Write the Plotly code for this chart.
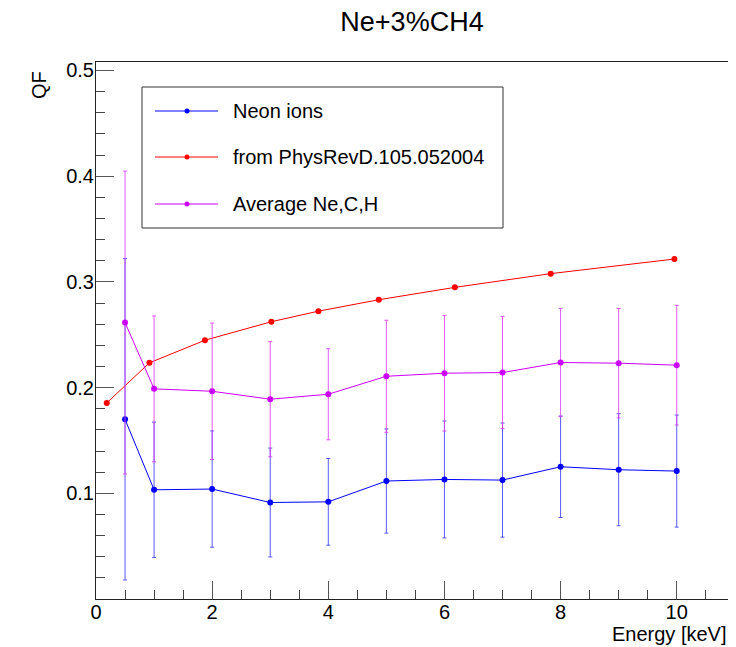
import plotly.graph_objects as go

# ---------------- data ----------------
neon_x = [0.5, 1, 2, 3, 4, 5, 6, 7, 8, 9, 10]
neon_y = [0.170, 0.1033, 0.104, 0.0913, 0.0919, 0.1116, 0.1131, 0.1125, 0.1251, 0.1223, 0.121]
neon_err = [0.152, 0.064, 0.055, 0.0515, 0.041, 0.0493, 0.0553, 0.054, 0.048, 0.053, 0.053]

prd_x = [0.185, 0.92, 1.876, 3.02, 3.83, 4.87, 6.18, 7.83, 9.96]
prd_y = [0.1855, 0.2234, 0.2448, 0.2623, 0.2723, 0.2831, 0.2948, 0.3078, 0.3216]

avg_x = [0.5, 1, 2, 3, 4, 5, 6, 7, 8, 9, 10]
avg_y = [0.2615, 0.1988, 0.1965, 0.189, 0.1937, 0.2107, 0.2136, 0.2142, 0.2237, 0.2231, 0.2212]
avg_err = [0.1433, 0.069, 0.0645, 0.0545, 0.0431, 0.053, 0.0547, 0.053, 0.0512, 0.0518, 0.0566]

series_names = ["Neon ions", "from PhysRevD.105.052004", "Average Ne,C,H"]
series_colors = ["#0000ff", "#ff0000", "#cc00ff"]

x_tickvals = [0, 2, 4, 6, 8, 10]
y_tickvals = [0.1, 0.2, 0.3, 0.4, 0.5]
y_ticktext = ["0.1", "0.2", "0.3", "0.4", "0.5"]

title_text = "Ne+3%CH4"
x_title = "Energy [keV]"
y_title = "QF"

# ---------------- layout constants ----------------
# The page body adds an 8px margin, so the figure is sized to fill the window.
OFF = 8
W, H = 736 - OFF, 647 - OFF
L, R, T, B = 96 - OFF, 7, 62 - OFF, 48
PW, PH = W - L - R, H - T - B
FONT = "Liberation Sans, Arial, Helvetica, sans-serif"


def px_x(px):
    # px given in window coordinates
    return (px - OFF - L) / PW


def px_y(py):
    return (H - B - (py - OFF)) / PH


fig = go.Figure()

fig.add_trace(go.Scatter(
    x=neon_x, y=neon_y, mode="lines+markers", name=series_names[0],
    line=dict(color=series_colors[0], width=1),
    marker=dict(color=series_colors[0], size=6),
    error_y=dict(type="data", array=neon_err, visible=True,
                 color="rgba(60,60,255,0.85)", thickness=1, width=2),
    showlegend=False,
))
fig.add_trace(go.Scatter(
    x=prd_x, y=prd_y, mode="lines+markers", name=series_names[1],
    line=dict(color=series_colors[1], width=1),
    marker=dict(color=series_colors[1], size=6),
    showlegend=False,
))
fig.add_trace(go.Scatter(
    x=avg_x, y=avg_y, mode="lines+markers", name=series_names[2],
    line=dict(color=series_colors[2], width=1),
    marker=dict(color=series_colors[2], size=6),
    error_y=dict(type="data", array=avg_err, visible=True,
                 color="rgba(220,60,255,0.85)", thickness=1, width=2),
    showlegend=False,
))

axis_common = dict(
    showline=True, linecolor="#222", linewidth=1, mirror=True,
    showgrid=False, zeroline=False,
    ticks="inside", ticklen=18, tickwidth=1, tickcolor="#555",
    tickfont=dict(family=FONT, size=20, color="black"),
)

fig.update_xaxes(
    range=[0, 10.9], tickmode="array", tickvals=x_tickvals,
    ticklabelstandoff=-5,
    minor=dict(ticks="inside", ticklen=9, tickwidth=1, tickcolor="#444",
               tickmode="linear", tick0=0, dtick=0.5),
    **axis_common,
)
fig.update_yaxes(
    range=[0, 0.508], tickmode="array", tickvals=y_tickvals, ticktext=y_ticktext,
    ticklabelstandoff=-3,
    minor=dict(ticks="inside", ticklen=9, tickwidth=1, tickcolor="#444",
               tickmode="linear", tick0=0, dtick=0.02),
    **axis_common,
)

# ---------------- custom ROOT-style legend box ----------------
shapes = [dict(type="rect", xref="paper", yref="paper",
               x0=px_x(142), x1=px_x(503), y0=px_y(228), y1=px_y(87),
               line=dict(color="#333", width=1), fillcolor="white", layer="above")]
annotations = []
rows_y = [111, 157, 204]
for name, col, ry in zip(series_names, series_colors, rows_y):
    shapes.append(dict(type="line", xref="paper", yref="paper",
                       x0=px_x(155), x1=px_x(218), y0=px_y(ry), y1=px_y(ry),
                       line=dict(color=col, width=1), layer="above"))
    shapes.append(dict(type="circle", xref="paper", yref="paper",
                       x0=px_x(184.5), x1=px_x(189.5), y0=px_y(ry + 2.5), y1=px_y(ry - 2.5),
                       line=dict(color=col, width=0), fillcolor=col, layer="above"))
    annotations.append(dict(text=name, xref="paper", yref="paper",
                            x=px_x(231), y=px_y(ry), xanchor="left", yanchor="middle",
                            showarrow=False, font=dict(family=FONT, size=20, color="black")))

annotations.append(dict(text=x_title, xref="paper", yref="paper",
                        x=1.0, y=px_y(634), xanchor="right", yanchor="middle",
                        showarrow=False, font=dict(family=FONT, size=20, color="black")))
annotations.append(dict(text=y_title, xref="paper", yref="paper",
                        x=px_x(39), y=px_y(69), xanchor="center", yanchor="top",
                        textangle=-90, showarrow=False,
                        font=dict(family=FONT, size=20, color="black")))

fig.update_layout(
    width=W, height=H,
    margin=dict(l=L, r=R, t=T, b=B, pad=0),
    paper_bgcolor="white", plot_bgcolor="white",
    title=dict(text=title_text, x=(412 - OFF) / W, xanchor="center",
               y=1 - 4 / H, yanchor="top", pad=dict(t=0, b=0, l=0, r=0),
               font=dict(family=FONT, size=27, color="black")),
    shapes=shapes, annotations=annotations,
    showlegend=False,
)

fig.write_html("out.html")
